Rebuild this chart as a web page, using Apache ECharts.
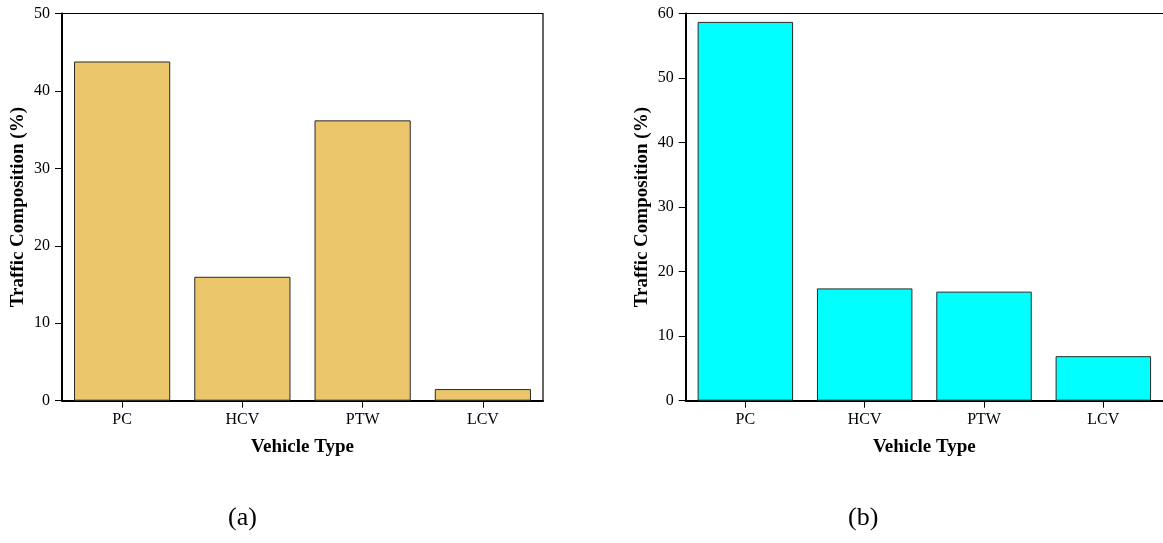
<!DOCTYPE html>
<html>
<head>
<meta charset="utf-8">
<script src="https://cdn.jsdelivr.net/npm/echarts@6/dist/echarts.min.js"></script>
<style>
html,body{margin:0;padding:0;background:#fff;}
#c{width:1163px;height:543px;}
</style>
</head>
<body>
<div id="c"></div>
<script>
const categories = ['PC', 'HCV', 'PTW', 'LCV'];
const valuesA = [43.8, 16.0, 36.2, 1.5];
const valuesB = [58.7, 17.4, 16.9, 6.9];
const yMaxA = 50, yMaxB = 60, yStep = 10;
const xName = 'Vehicle Type';
const yName = 'Traffic Composition (%)';
const panelLabels = ['(a)', '(b)'];

const FONT = '"Liberation Serif", "Times New Roman", serif';
const chart = echarts.init(document.getElementById('c'), null, {renderer: 'canvas'});

function xAxisFor(idx) {
  return {
    type: 'category', gridIndex: idx, data: categories,
    name: xName, nameLocation: 'middle', nameGap: 37,
    nameTextStyle: {fontFamily: FONT, fontWeight: 'bold', fontSize: 19, color: '#000'},
    axisLine: {show: true, lineStyle: {color: '#000', width: 2}},
    axisTick: {show: true, alignWithLabel: true, length: 7, lineStyle: {color: '#000', width: 1}},
    axisLabel: {fontFamily: FONT, fontSize: 16, color: '#000', margin: 11},
    splitLine: {show: false}
  };
}
function yAxisFor(idx, max) {
  return {
    type: 'value', gridIndex: idx, min: 0, max: max, interval: yStep,
    name: yName, nameLocation: 'middle', nameGap: 34,
    nameTextStyle: {fontFamily: FONT, fontWeight: 'bold', fontSize: 19, color: '#000'},
    axisLine: {show: true, lineStyle: {color: '#000', width: 2}},
    axisTick: {show: true, length: 7, lineStyle: {color: '#000', width: 1}},
    axisLabel: {fontFamily: FONT, fontSize: 16, color: '#000', margin: 12},
    splitLine: {show: false}
  };
}
const topBorderAxis = {
  type: 'category', gridIndex: 1, position: 'top', data: categories,
  axisLine: {show: true, lineStyle: {color: '#000', width: 1.2}},
  axisTick: {show: false}, axisLabel: {show: false}, splitLine: {show: false}
};

chart.setOption({
  animation: false,
  backgroundColor: '#fff',
  grid: [
    {left: 62, top: 13.5, width: 481, height: 387.2, show: true, borderColor: '#000', borderWidth: 1.2, backgroundColor: 'transparent', containLabel: false},
    {left: 685.7, top: 13.5, width: 481, height: 387.2, show: false, containLabel: false}
  ],
  xAxis: [xAxisFor(0), xAxisFor(1), topBorderAxis],
  yAxis: [yAxisFor(0, yMaxA), yAxisFor(1, yMaxB)],
  series: [
    {type: 'bar', xAxisIndex: 0, yAxisIndex: 0, data: valuesA, barCategoryGap: '20%',
     itemStyle: {color: '#ECC66B', borderColor: '#2a2a2a', borderWidth: 1}},
    {type: 'bar', xAxisIndex: 1, yAxisIndex: 1, data: valuesB, barCategoryGap: '20%',
     itemStyle: {color: '#00FFFF', borderColor: '#2a2a2a', borderWidth: 1}}
  ],
  graphic: [
    {type: 'text', left: 228, top: 505, style: {text: panelLabels[0], font: '26px ' + FONT, fill: '#000'}},
    {type: 'text', left: 848, top: 505, style: {text: panelLabels[1], font: '26px ' + FONT, fill: '#000'}}
  ]
});
</script>
</body>
</html>
